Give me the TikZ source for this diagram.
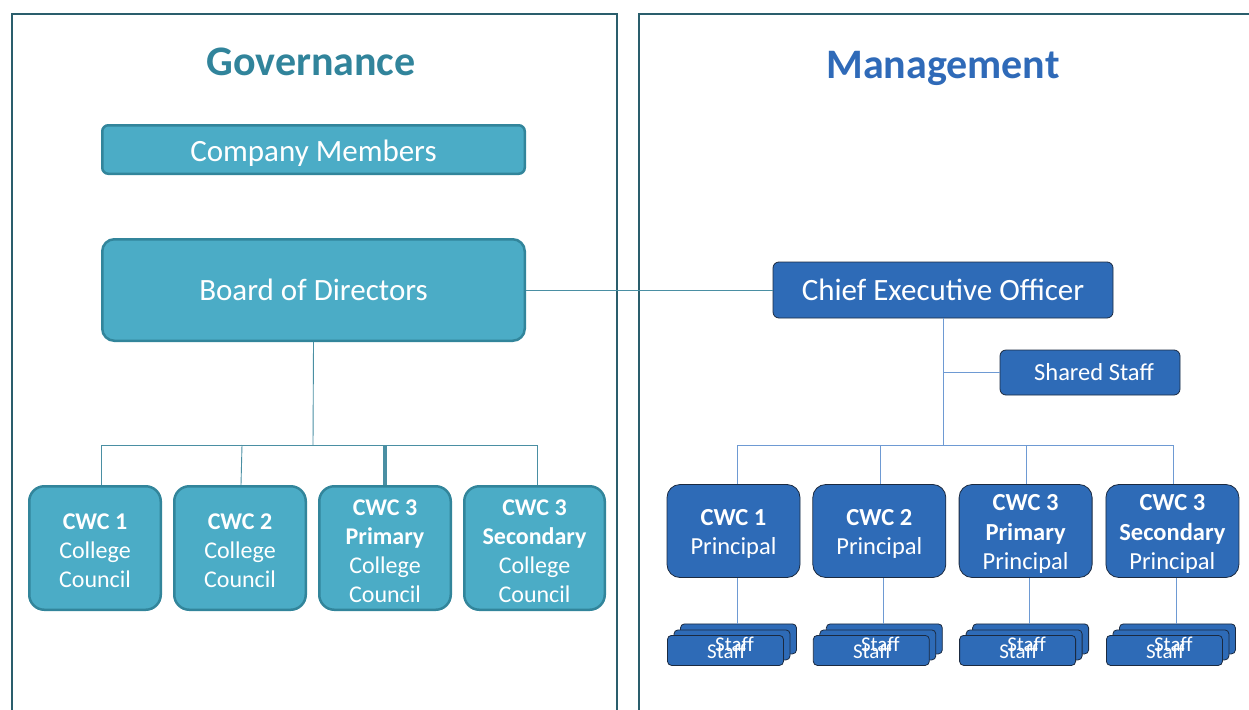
\documentclass[tikz,border=0pt]{standalone}
\usepackage{fontspec}
\setmainfont{Carlito}
\usetikzlibrary{positioning}

\definecolor{govfill}{HTML}{4BACC6}
\definecolor{govedge}{HTML}{32859B}
\definecolor{govtitle}{HTML}{31849B}
\definecolor{govline}{HTML}{4A8FA3}
\definecolor{mgtfill}{HTML}{2E6BB7}
\definecolor{mgtedge}{HTML}{1B2A40}
\definecolor{mgttitle}{HTML}{2F6AB8}
\definecolor{mgtline}{HTML}{6E9AD3}
\definecolor{panelline}{HTML}{2A5E6C}

% taller first line, pushes the unit text a little down
\newcommand{\unitstrut}{\rule{0pt}{22pt}}

\begin{document}
\begin{tikzpicture}[
	x=1pt, y=-1pt,
	title/.style={font=\fontsize{42}{48}\selectfont\bfseries},
	govbox/.style={rectangle, rounded corners=6pt, draw=govedge, line width=2.5pt, fill=govfill, text=white, align=center, font=\fontsize{31}{36}\selectfont},
	govunit/.style={govbox, rounded corners=15pt, minimum width=131.5pt, minimum height=123.5pt, inner sep=2pt, font=\fontsize{24}{29}\selectfont},
	mgtbox/.style={rectangle, rounded corners=6pt, draw=mgtedge, line width=0.8pt, fill=mgtfill, text=white, align=center, font=\fontsize{31}{36}\selectfont},
	mgtunit/.style={mgtbox, rounded corners=13pt, minimum width=133pt, minimum height=93pt, inner sep=2pt, font=\fontsize{24.5}{29.5}\selectfont},
	staffbox/.style={mgtbox, rounded corners=4pt, minimum width=116pt, minimum height=30pt},
	stafftext/.style={text=white, inner sep=0pt, font=\fontsize{21}{24}\selectfont},
	govlink/.style={draw=govline, line width=0.9pt},
	mgtlink/.style={draw=mgtline, line width=0.9pt},
	node distance=11pt
]
\useasboundingbox (0,0) rectangle (1249,709);

% --- Panels ---
\draw[panelline, line width=2.6pt] (12,716) -- (12,14) -- (617,14) -- (617,716);
\draw[panelline, line width=2.6pt] (639,716) -- (639,14) -- (1256,14);
\node[title, text=govtitle] (govhead) at (311,62) {Governance};
\node[title, text=mgttitle] (mgthead) at (943,68) {Management};

% --- Governance ---
\node[govbox, minimum width=422.5pt, minimum height=48.5pt, text height=28pt] (members) at (313.5,149.5) {Company Members};
\node[govbox, rounded corners=12pt, minimum width=422.5pt, minimum height=101.5pt] (board) at (313.5,290) {Board of Directors};

\node[govunit] (gc1) at (95,548) {\unitstrut\textbf{CWC 1}\\College\\Council};
\node[govunit, right=of gc1] (gc2) {\unitstrut\textbf{CWC 2}\\College\\Council};
\node[govunit, right=of gc2] (gc3) {\unitstrut\textbf{CWC 3}\\\textbf{Primary}\\College\\Council};
\node[govunit, right=of gc3, minimum width=140.5pt] (gc4) {\unitstrut\textbf{CWC 3}\\\textbf{Secondary}\\College\\Council};

\coordinate (gbus) at (313,445);
\draw[govlink] (board.south) -- (gbus);
\draw[govlink] ([xshift=6pt]gc1.north |- gbus) -- ([xshift=3pt]gc4.north |- gbus);
\draw[govlink] ([xshift=6pt]gc1.north) -- ([xshift=6pt]gc1.north |- gbus);
\draw[govlink] ([xshift=1pt]gc2.north) -- ([xshift=2pt]gc2.north |- gbus);
\draw[govlink, line width=3.5pt] (gc3.north) -- (gc3.north |- gbus);
\draw[govlink] ([xshift=3pt]gc4.north) -- ([xshift=3pt]gc4.north |- gbus);

% --- Management ---
\node[mgtbox, minimum width=340pt, minimum height=56pt] (ceo) at (943,290) {Chief Executive Officer};
\node[mgtbox, minimum width=180pt, minimum height=45pt, font=\fontsize{24.5}{29}\selectfont] (shared) at (1090,372.5) {\hspace{8pt}Shared Staff};
\draw[govlink] (board.east) -- (ceo.west);

\node[mgtunit] (p1) at (733.5,531) {\unitstrut\textbf{CWC 1}\\Principal};
\node[mgtunit, right=12pt of p1] (p2) {\unitstrut\textbf{CWC 2}\\Principal};
\node[mgtunit, right=12.5pt of p2] (p3) {\unitstrut\textbf{CWC 3}\\\textbf{Primary}\\Principal};
\node[mgtunit, right=13pt of p3] (p4) {\unitstrut\textbf{CWC 3}\\\textbf{Secondary}\\Principal};

\coordinate (mbus) at (943,445);
\draw[mgtlink] (ceo.south) -- (mbus);
\draw[mgtlink] (ceo.south |- shared.west) -- (shared.west);
\draw[mgtlink] ([xshift=4pt]p1.north |- mbus) -- ([xshift=1pt]p4.north |- mbus);
\draw[mgtlink] ([xshift=4pt]p1.north) -- ([xshift=4pt]p1.north |- mbus);
\foreach \p in {p2,p3,p4}
  \draw[mgtlink] ([xshift=1pt]\p.north) -- ([xshift=1pt]\p.north |- mbus);

% --- Staff stacks ---
\foreach \p in {p1,p2,p3,p4} {
  \node[staffbox] (\p-back) at ([xshift=5pt, yshift=-61pt]\p.south) {};
  \node[staffbox] (\p-mid) at ([xshift=-1.5pt, yshift=-67pt]\p.south) {};
  \node[staffbox] (\p-front) at ([xshift=-8pt, yshift=-72.5pt]\p.south) {};
  \draw[mgtlink] ([xshift=4pt]\p.south) -- ([xshift=4pt]\p.south |- \p-back.north);
  \node[stafftext] (\p-t1) at ([xshift=1pt, yshift=-66pt]\p.south) {Staff};
  \node[stafftext] (\p-t2) at ([xshift=-7pt, yshift=-73pt]\p.south) {Staff};
}
\end{tikzpicture}
\end{document}
